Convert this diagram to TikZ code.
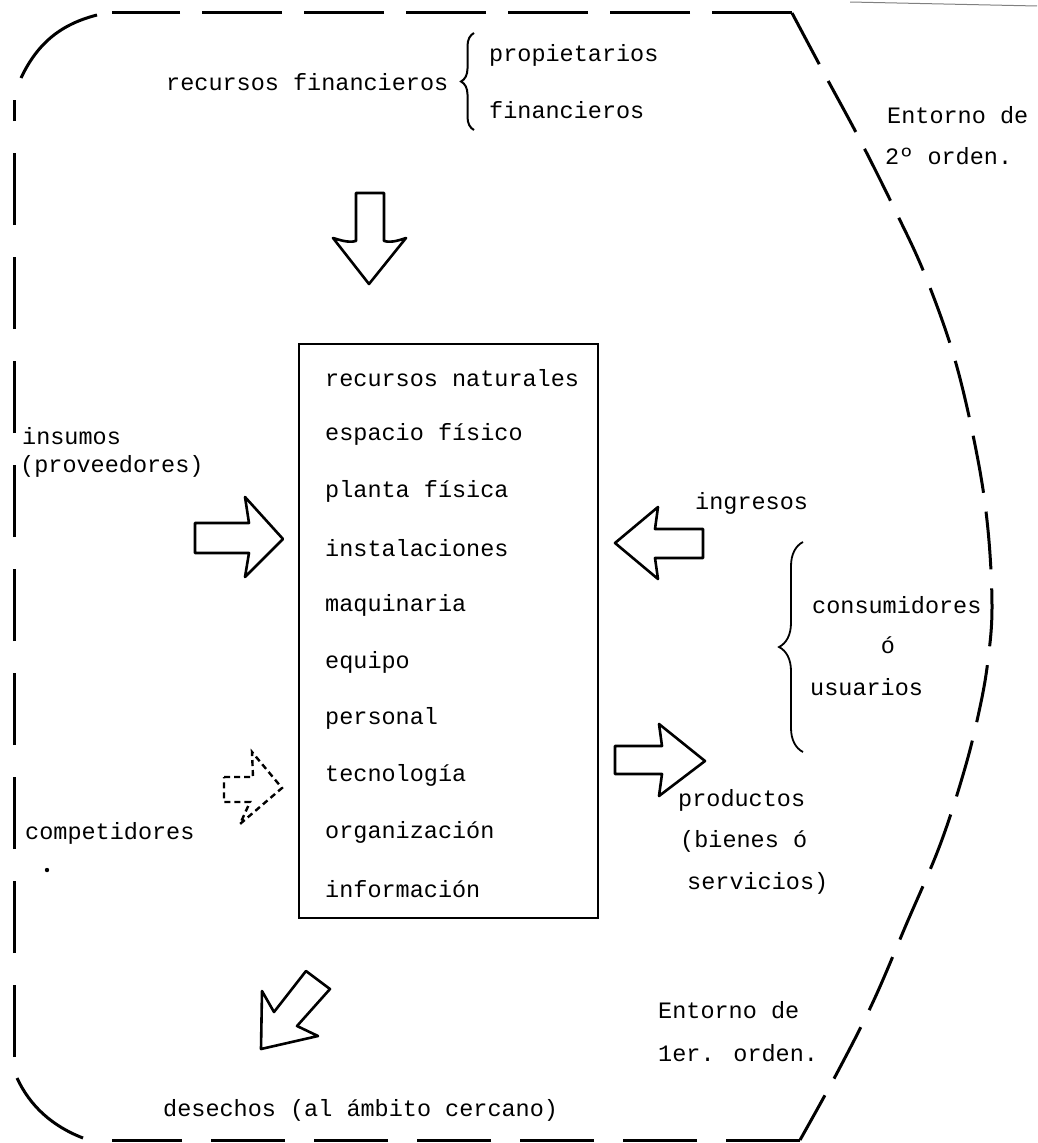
\documentclass[tikz,border=0pt]{standalone}
\usepackage{fontspec}
\newfontfamily\tw{Liberation Mono}
\usetikzlibrary{decorations.pathreplacing}
\begin{document}
\begin{tikzpicture}[x=1pt,y=-1pt,
  txt/.style={font=\tw\fontsize{23.5}{28}\selectfont, inner sep=0pt, anchor=west},
  bound/.style={line width=3pt},
  blockarrow/.style={line width=2.6pt, line join=round},
  dblock/.style={line width=2.4pt, dash pattern=on 6pt off 4pt},
  brc/.style={line width=2pt, decorate}]
\useasboundingbox (0,0) rectangle (1037,1143);
% outer boundary
\draw[bound] (21,78) .. controls (38,42) and (62,24) .. (97,15);
\draw[bound, dash pattern=on 80pt off 22pt] (792,12) -- (112,12);
\draw[bound, dash pattern=on 58pt off 19pt] plot[smooth, tension=0.6] coordinates {(792,13) (825,75) (860,140) (895,210) (925,275) (955,360) (977,455) (988,530) (992,607) (988,660) (980,707) (965,768) (940,845) (906,925) (873,1002) (837,1073) (800,1140)};
\draw[bound, dash pattern=on 74pt off 29pt] (800,1140) -- (112,1140);
\draw[bound] (83,1138) .. controls (52,1126) and (30,1106) .. (17,1078);
\draw[bound, dash pattern=on 72pt off 32pt] (14,1057) -- (14,100);
\draw[line width=1pt, gray] (850,2) -- (1037,6);
\fill (47,870) circle (2.2pt);
% central box
\node[draw, line width=2.8pt, minimum width=299pt, minimum height=574pt, inner sep=0pt] (box) at (448.5,631) {};
\foreach \t [count=\i from 0] in {recursos naturales, espacio físico, planta física, instalaciones, maquinaria, equipo, personal, tecnología, organización, información}
  \node[txt] (it\i) at (325, 378+56.8*\i) {\t};
% top
\node[txt] (rf) at (166,82) {recursos financieros};
\node[txt] (prop) at (489,55) {propietarios};
\node[txt] (fin) at (489,110) {financieros};
\draw[brc, decoration={brace, amplitude=13pt}] (474,130) -- (474,33);
\node[txt] (e2a) at (887,115) {Entorno de};
\node[txt] (e2b) at (885,156) {2º orden.};
\draw[blockarrow] (356,193) -- (384,193) -- (384,241) .. controls (392,243) and (400,240) .. (406,238) -- (369,284) -- (333,238) .. controls (340,240) and (348,243) .. (356,241) -- cycle;
% left
\node[txt] (ins) at (22,436) {insumos};
\node[txt] (prov) at (20,466) {(proveedores)};
\draw[blockarrow] (195,523) -- (249,523) -- (245,497) -- (283,539) -- (245,577) -- (249,553) -- (195,553) -- cycle;
\node[txt] (comp) at (25,833) {competidores};
\draw[dblock] (224,777) -- (253,777) -- (252,752) -- (282,788) -- (240,824) -- (250,802) -- (224,802) -- cycle;
% right
\node[txt] (ingr) at (695,503) {ingresos};
\draw[blockarrow] (703,529) -- (655,529) -- (658,507) -- (615,543) -- (658,579) -- (655,558) -- (703,558) -- cycle;
\node[txt] (cons) at (812,605) {consumidores};
\node[txt, anchor=center] (o) at (888,645) {ó};
\node[txt] (usu) at (810,687) {usuarios};
\draw[brc, line width=1.8pt, decoration={brace, amplitude=24pt}] (803,752) -- (803,542);
\draw[blockarrow] (615,746) -- (662,746) -- (659,724) -- (705,761) -- (659,796) -- (662,774) -- (615,774) -- cycle;
\node[txt] (prod) at (678,800) {productos};
\node[txt] (bien) at (680,841) {(bienes ó};
\node[txt] (serv) at (687,883) {servicios)};
% bottom
\node[txt] (e1a) at (658,1010) {Entorno de};
\node[txt] (e1b) at (658,1053) {1er. orden.};
\draw[blockarrow] (261,1049) -- (262,991) -- (274,1012) -- (306,971) -- (330,989) -- (297,1026) -- (318,1036) -- cycle;
\node[txt] (des) at (163,1110) {desechos (al ámbito cercano)};
\end{tikzpicture}
\end{document}
